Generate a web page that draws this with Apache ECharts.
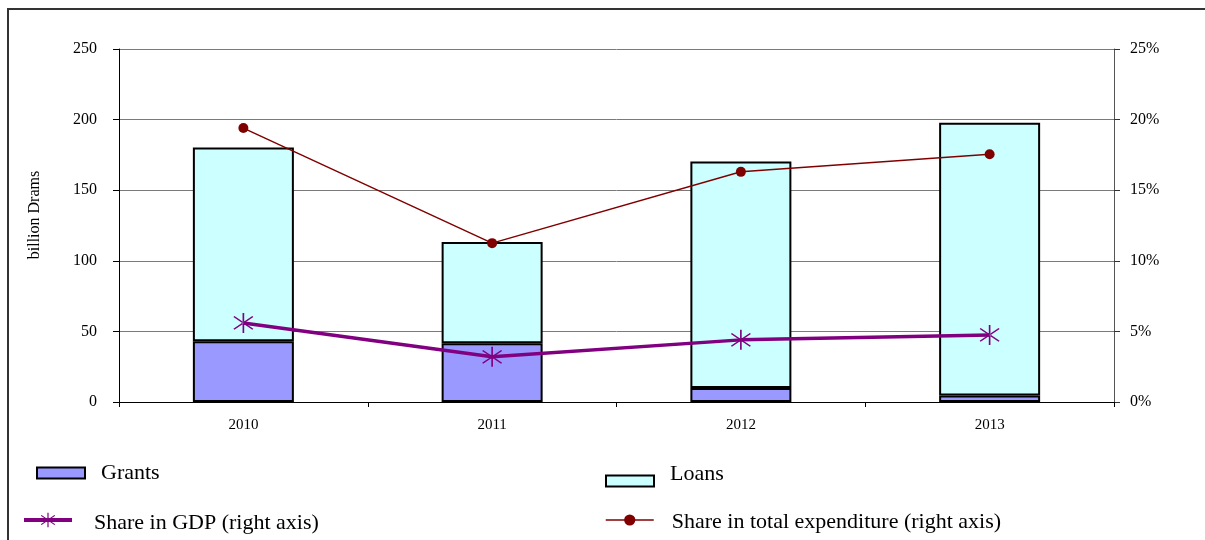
<!DOCTYPE html>
<html>
<head>
<meta charset="utf-8">
<script src="https://cdn.jsdelivr.net/npm/echarts@6/dist/echarts.min.js"></script>
<style>
  html, body { margin: 0; padding: 0; background: #ffffff; }
  #chart { width: 1205px; height: 540px; }
</style>
</head>
<body>
<div id="chart"></div>
<script>
// Years on the category axis
var years = ['2010', '2011', '2012', '2013'];
// Stacked amounts, billion Drams
var grants = [43, 41.6, 10, 4.6];
var loans = [137.2, 71.7, 160.3, 193.1];
// Shares, percent (right axis)
var shareGdp = [5.6, 3.2, 4.4, 4.75];
var shareExpenditure = [19.4, 11.25, 16.3, 17.55];
// Tick labels
var leftTicks = [0, 50, 100, 150, 200, 250];
var rightTicks = ['0%', '5%', '10%', '15%', '20%', '25%'];

var serif = '"Liberation Serif", "DejaVu Serif", serif';

// six-armed asterisk marker built from three thin bars
var asterisk = 'path://M46.5 0 L53.5 0 L53.5 100 L46.5 100 Z' +
  ' M7.8 20.7 L87.8 84.7 L92.2 79.3 L12.2 15.3 Z' +
  ' M12.2 84.7 L92.2 20.7 L87.8 15.3 L7.8 79.3 Z';

var chart = echarts.init(document.getElementById('chart'), null, { renderer: 'canvas' });

// one legend block per entry; the rich-text padding nudges the label
// vertically against its key
function legendBox(name, left, top, gap, tokenPadding, extra) {
  var l = {
    data: [name],
    left: left,
    top: top,
    itemWidth: 48,
    itemHeight: 11,
    padding: 0,
    selectedMode: false,
    formatter: '{t|{name}}',
    textStyle: {
      fontFamily: serif, fontSize: 22, color: '#000', padding: [0, 0, 0, gap],
      rich: { t: { fontFamily: serif, fontSize: 22, color: '#000', padding: tokenPadding } }
    }
  };
  for (var k in extra) l[k] = extra[k];
  return l;
}

chart.setOption({
  animation: false,
  backgroundColor: '#ffffff',
  graphic: [{
    type: 'rect',
    shape: { x: 8, y: 9, width: 1400, height: 800 },
    style: { fill: 'none', stroke: '#333', lineWidth: 2 },
    silent: true
  }, {
    // left axis title
    type: 'text',
    x: 35, y: 215,
    rotation: Math.PI / 2,
    style: {
      text: 'billion Drams', fontFamily: serif, fontSize: 16, fill: '#000',
      align: 'center', verticalAlign: 'middle'
    },
    silent: true
  }],
  grid: { left: 119, right: 91, top: 49, bottom: 138 },
  legend: [
    legendBox('Grants', 36, 462, 11, [0, 0, 0, 0], { icon: 'rect' }),
    legendBox('Loans', 605, 463, 11, [0, 0, 14, 0], { icon: 'rect' }),
    legendBox('Share in GDP (right axis)', 22, 512, 17, [6, 0, 0, 0], {
      itemHeight: 18,
      data: [{ name: 'Share in GDP (right axis)', lineStyle: { width: 4, color: '#800080' } }]
    }),
    legendBox('Share in total expenditure (right axis)', 605, 511, 13, [4, 0, 0, 0], {
      itemHeight: 14,
      data: [{ name: 'Share in total expenditure (right axis)', lineStyle: { width: 1.5, color: '#800000' } }]
    })
  ],
  xAxis: {
    type: 'category',
    data: years,
    boundaryGap: true,
    axisLine: { lineStyle: { color: '#000', width: 1 } },
    axisTick: { show: true, alignWithLabel: false, length: 5, lineStyle: { color: '#000' } },
    axisLabel: { fontFamily: serif, fontSize: 15, color: '#000', margin: 16 }
  },
  yAxis: [{
    type: 'value',
    min: 0, max: 250, interval: 50,
    axisLine: { show: true, lineStyle: { color: '#000', width: 1 } },
    axisTick: { show: true, length: 6, lineStyle: { color: '#000' } },
    axisLabel: {
      fontFamily: serif, fontSize: 16, color: '#000', margin: 22,
      formatter: function (v) { return leftTicks.indexOf(v) >= 0 ? String(v) : ''; }
    },
    splitLine: { show: true, lineStyle: { color: '#7a7a7a', width: 1 } }
  }, {
    type: 'value',
    min: 0, max: 25, interval: 5,
    position: 'right',
    axisLine: { show: true, lineStyle: { color: '#555', width: 1 } },
    axisTick: { show: true, length: 6, lineStyle: { color: '#333' } },
    axisLabel: {
      fontFamily: serif, fontSize: 16, color: '#000', margin: 16,
      formatter: function (v) { return rightTicks[Math.round(v / 5)]; }
    },
    splitLine: { show: false }
  }],
  series: [{
    name: 'Grants',
    type: 'bar',
    stack: 'total',
    data: grants,
    barWidth: 101,
    itemStyle: { color: '#9999ff', borderColor: '#000', borderWidth: 2 }
  }, {
    name: 'Loans',
    type: 'bar',
    stack: 'total',
    data: loans,
    barWidth: 101,
    itemStyle: { color: '#ccffff', borderColor: '#000', borderWidth: 2 }
  }, {
    name: 'Share in GDP (right axis)',
    type: 'line',
    yAxisIndex: 1,
    data: shareGdp,
    symbol: asterisk,
    symbolSize: 20,
    showAllSymbol: true,
    lineStyle: { color: '#800080', width: 3.5 },
    itemStyle: { color: '#800080' },
    z: 5
  }, {
    name: 'Share in total expenditure (right axis)',
    type: 'line',
    yAxisIndex: 1,
    data: shareExpenditure,
    symbol: 'circle',
    symbolSize: 10,
    showAllSymbol: true,
    lineStyle: { color: '#800000', width: 1.5 },
    itemStyle: { color: '#800000' },
    z: 6
  }]
});
</script>
</body>
</html>
